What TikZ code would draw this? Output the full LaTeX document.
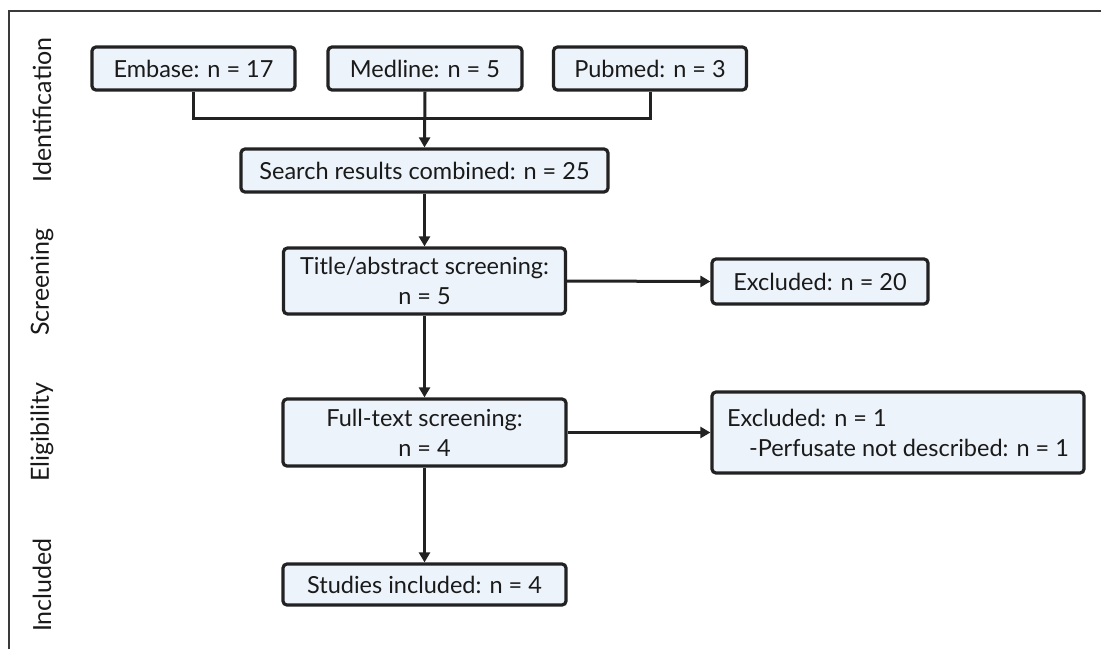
\documentclass[tikz,border=0pt]{standalone}
\usepackage{fontspec}
\setmainfont{Lato}
\usetikzlibrary{arrows.meta}
\definecolor{boxfill}{HTML}{EDF3FB}
\definecolor{boxline}{HTML}{222222}
\definecolor{frameline}{HTML}{3A3A3A}
\definecolor{txt}{HTML}{1A1A1A}
\begin{document}
\begin{tikzpicture}[x=1pt,y=-1pt,
  box/.style={draw=boxline, fill=boxfill, line width=3.2pt, rounded corners=4pt,
    inner sep=0pt, align=center, text=txt, font=\fontsize{23.5}{30}\selectfont},
  conn/.style={draw=boxline, line width=3pt},
  arr/.style={conn, -{Triangle[length=10pt,width=11pt]}},
  phase/.style={rotate=90, text=txt, font=\fontsize{25}{28}\selectfont, inner sep=0pt}]
\useasboundingbox (0,0) rectangle (1101,649);
\fill[white] (0,0) rectangle (1101,649);
% frame
\draw[frameline, line width=1.5pt] (9,649) -- (9,11) -- (1101,11);
% phase labels
\node[phase] (lid) at (42,110) {Identification};
\node[phase] (lsc) at (42,282) {Screening};
\node[phase] (lel) at (42,432) {Eligibility};
\node[phase] (lin) at (42,585) {Included};
% boxes
\node[box, minimum width=203pt, minimum height=43pt] (emb) at (193.5,68.5) {Embase: n = 17};
\node[box, minimum width=194pt, minimum height=43pt] (med) at (425,68.5) {Medline: n = 5};
\node[box, minimum width=193pt, minimum height=43pt] (pub) at (650,68.5) {Pubmed: n = 3};
\node[box, minimum width=367pt, minimum height=43pt] (sea) at (424.5,170.5) {Search results combined: n = 25};
\node[box, minimum width=282pt, minimum height=66pt] (tit) at (424.5,281) {Title/abstract screening:\\ n = 5};
\node[box, minimum width=216pt, minimum height=45pt] (ex1) at (820,281.5) {Excluded: n = 20};
\node[box, minimum width=283pt, minimum height=67pt] (ful) at (424.5,432.5) {Full-text screening:\\ n = 4};
\node[box, minimum width=372pt, minimum height=81pt, align=left] (ex2) at (898,432.5)
  {Excluded: n = 1\\ \hspace*{22pt}-Perfusate not described: n = 1};
\node[box, minimum width=283pt, minimum height=41pt] (stu) at (424.5,584.5) {Studies included: n = 4};
% connectors
\coordinate (junc) at (424.5,118);
\draw[conn] (emb.south) |- (junc) -| (pub.south);
\draw[arr] (med.south) -- (sea.north);
\draw[arr] (sea.south) -- (tit.north);
\draw[arr] (tit.east) -- (ex1.west);
\draw[arr] (tit.south) -- (ful.north);
\draw[arr] (ful.east) -- (ex2.west);
\draw[arr] (ful.south) -- (stu.north);
\end{tikzpicture}
\end{document}
